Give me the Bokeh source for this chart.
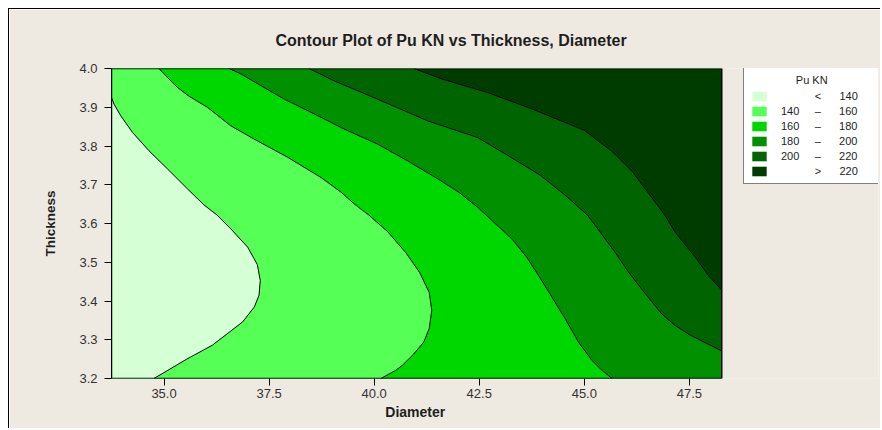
from bokeh.plotting import figure
from bokeh.models import Range1d, FixedTicker, PrintfTickFormatter, Legend, LegendItem
from bokeh.embed import file_html
from bokeh.resources import INLINE

# ---------------- data ----------------
TITLE = "Contour Plot of Pu KN vs Thickness, Diameter"
X_LABEL = "Diameter"
Y_LABEL = "Thickness"
LEGEND_TITLE = "Pu KN"

X_MIN, X_MAX = 33.75, 48.27
Y_MIN, Y_MAX = 3.2, 4.0
x_ticks = [35.0, 37.5, 40.0, 42.5, 45.0, 47.5]
y_ticks = [3.2, 3.3, 3.4, 3.5, 3.6, 3.7, 3.8, 3.9, 4.0]

levels = [140, 160, 180, 200, 220]

line140_d = [33.75, 33.81, 33.97, 34.25, 34.64, 35.08, 35.56, 35.95, 36.27, 36.59,
             36.99, 37.22, 37.29, 37.26, 37.15, 36.87, 36.15, 35.54, 34.76]
line140_t = [3.925, 3.908, 3.878, 3.835, 3.788, 3.741, 3.689, 3.648, 3.621, 3.586,
             3.539, 3.494, 3.453, 3.415, 3.385, 3.346, 3.286, 3.250, 3.2]

line160_d = [34.88, 35.08, 35.32, 35.60, 36.03, 36.59, 37.14, 37.94, 38.73, 39.21,
             39.52, 39.88, 40.32, 40.75, 41.08, 41.31, 41.37, 41.31, 41.18, 40.94,
             40.67, 40.51, 40.16]
line160_t = [4.0, 3.977, 3.951, 3.928, 3.900, 3.852, 3.818, 3.771, 3.719, 3.681,
             3.651, 3.621, 3.579, 3.525, 3.474, 3.422, 3.376, 3.329, 3.294, 3.263,
             3.234, 3.221, 3.2]

line180_d = [36.55, 36.83, 37.38, 37.86, 38.57, 39.28, 40.08, 40.79, 41.58, 42.06,
             42.46, 42.93, 43.27, 43.63, 43.91, 44.23, 44.54, 44.86, 45.18, 45.42, 45.66]
line180_t = [4.0, 3.986, 3.951, 3.921, 3.883, 3.844, 3.805, 3.762, 3.711, 3.677,
             3.642, 3.595, 3.561, 3.513, 3.466, 3.410, 3.355, 3.294, 3.247, 3.221, 3.2]

line200_d = [38.45, 39.05, 40.08, 41.27, 42.46, 43.25, 43.96, 44.60, 45.08, 45.26,
             45.73, 46.05, 46.45, 46.84, 47.16, 47.52, 48.27]
line200_t = [4.0, 3.968, 3.921, 3.865, 3.822, 3.771, 3.724, 3.668, 3.621, 3.595,
             3.526, 3.475, 3.419, 3.367, 3.337, 3.312, 3.271]

line220_d = [40.95, 41.61, 42.70, 43.77, 45.01, 45.68, 46.15, 46.66, 46.92, 47.16,
             47.64, 47.95, 48.27]
line220_t = [4.0, 3.973, 3.938, 3.895, 3.840, 3.784, 3.733, 3.659, 3.621, 3.578,
             3.513, 3.466, 3.428]

band_labels = ["< 140", "140 – 160", "160 – 180", "180 – 200", "200 – 220", "> 220"]

# ---------------- styles / layout ----------------
band_colors = ["#D5FFD5", "#55FF55", "#00D700", "#009000", "#006400", "#003C00"]
BEIGE = "#EEEAE1"
FONT = "Liberation Sans"
TXT = "#1E1E1E"
X_VIEW_MAX = 52.0   # frame continues to the right so the legend can sit inside it

NB = "\u00a0"
FS = "\u2007"
legend_texts = [
    FS * 3 + NB * 5 + "<" + NB * 6 + "140",
    "140" + NB * 5 + "–" + NB * 6 + "160",
    "160" + NB * 5 + "–" + NB * 6 + "180",
    "180" + NB * 5 + "–" + NB * 6 + "200",
    "200" + NB * 5 + "–" + NB * 6 + "220",
    FS * 3 + NB * 5 + ">" + NB * 6 + "220",
]

p = figure(width=872, height=420, output_backend="svg", toolbar_location=None,
           x_range=Range1d(X_MIN, X_VIEW_MAX), y_range=Range1d(Y_MIN, Y_MAX),
           min_border_left=102, min_border_right=3, min_border_top=59,
           min_border_bottom=51, title=TITLE)
p.border_fill_color = BEIGE
p.background_fill_color = BEIGE
p.outline_line_color = None
p.grid.visible = False
p.styles = {"margin-left": "8px", "margin-top": "8px",
            "border-top": "1px solid black", "border-left": "1px solid black"}

p.title.text_font = FONT
p.title.text_font_size = "16px"
p.title.text_font_style = "bold"
p.title.text_color = TXT
p.title.align = "left"
p.title.offset = 164
p.title.standoff = 40

lines_d = [line140_d, line160_d, line180_d, line200_d, line220_d]
lines_t = [line140_t, line160_t, line180_t, line200_t, line220_t]


def below_polygon(ds, ts):
    xs, ys = list(ds), list(ts)
    if xs[-1] >= X_MAX:
        xs.append(X_MAX); ys.append(Y_MIN)
    xs.append(X_MIN); ys.append(Y_MIN)
    if ts[0] >= Y_MAX:
        xs.append(X_MIN); ys.append(Y_MAX)
    return xs, ys


box_x = [X_MIN, X_MAX, X_MAX, X_MIN]
box_y = [Y_MIN, Y_MIN, Y_MAX, Y_MAX]

renderers = [None] * 6
renderers[5] = p.patch(box_x, box_y, fill_color=band_colors[5], line_color=None)
for i in range(4, -1, -1):
    xs, ys = below_polygon(lines_d[i], lines_t[i])
    renderers[i] = p.patch(xs, ys, fill_color=band_colors[i], line_color=None)

p.multi_line(xs=lines_d, ys=lines_t, line_color="black", line_width=1)
# plot-area border
p.patch(box_x, box_y, fill_color=None, line_color="black", line_width=1.5)

for ax in (p.xaxis[0], p.yaxis[0]):
    ax.major_label_text_font = FONT
    ax.major_label_text_font_size = "13px"
    ax.major_label_text_color = "#333333"
    ax.axis_label_text_font = FONT
    ax.axis_label_text_font_style = "bold"
    ax.axis_label_text_color = TXT
    ax.major_tick_out = 7
    ax.major_tick_in = 0
    ax.minor_tick_out = 0
    ax.minor_tick_in = 0
    ax.axis_line_color = "black"
    ax.major_tick_line_color = "black"
    ax.formatter = PrintfTickFormatter(format="%.1f")

p.xaxis[0].axis_line_color = None
p.xaxis[0].ticker = FixedTicker(ticks=x_ticks)
p.yaxis[0].ticker = FixedTicker(ticks=y_ticks)
# pad so that the visible word is centred under the contour area
p.xaxis[0].axis_label = X_LABEL + NB * 41
p.yaxis[0].axis_label = Y_LABEL
p.xaxis[0].axis_label_text_font_size = "14px"
p.yaxis[0].axis_label_text_font_size = "13.5px"
p.xaxis[0].major_label_standoff = 3
p.xaxis[0].axis_label_standoff = 3
p.yaxis[0].major_label_standoff = 7
p.yaxis[0].axis_label_standoff = 18

items = [LegendItem(label=legend_texts[i], renderers=[renderers[i]]) for i in range(6)]
legend = Legend(items=items, location=(632, 194), title=NB * 15 + LEGEND_TITLE,
                border_line_color="black", border_line_width=1,
                background_fill_color="white", background_fill_alpha=1.0,
                padding=6, spacing=3, margin=0,
                glyph_width=18, glyph_height=12, label_height=12, label_width=91,
                label_standoff=13, label_text_font=FONT, label_text_font_size="11px",
                label_text_color=TXT, title_text_font=FONT, title_text_font_size="11px",
                title_text_font_style="normal", title_text_color=TXT, title_standoff=4)
p.add_layout(legend)

open("out.html", "w").write(file_html(p, INLINE))
